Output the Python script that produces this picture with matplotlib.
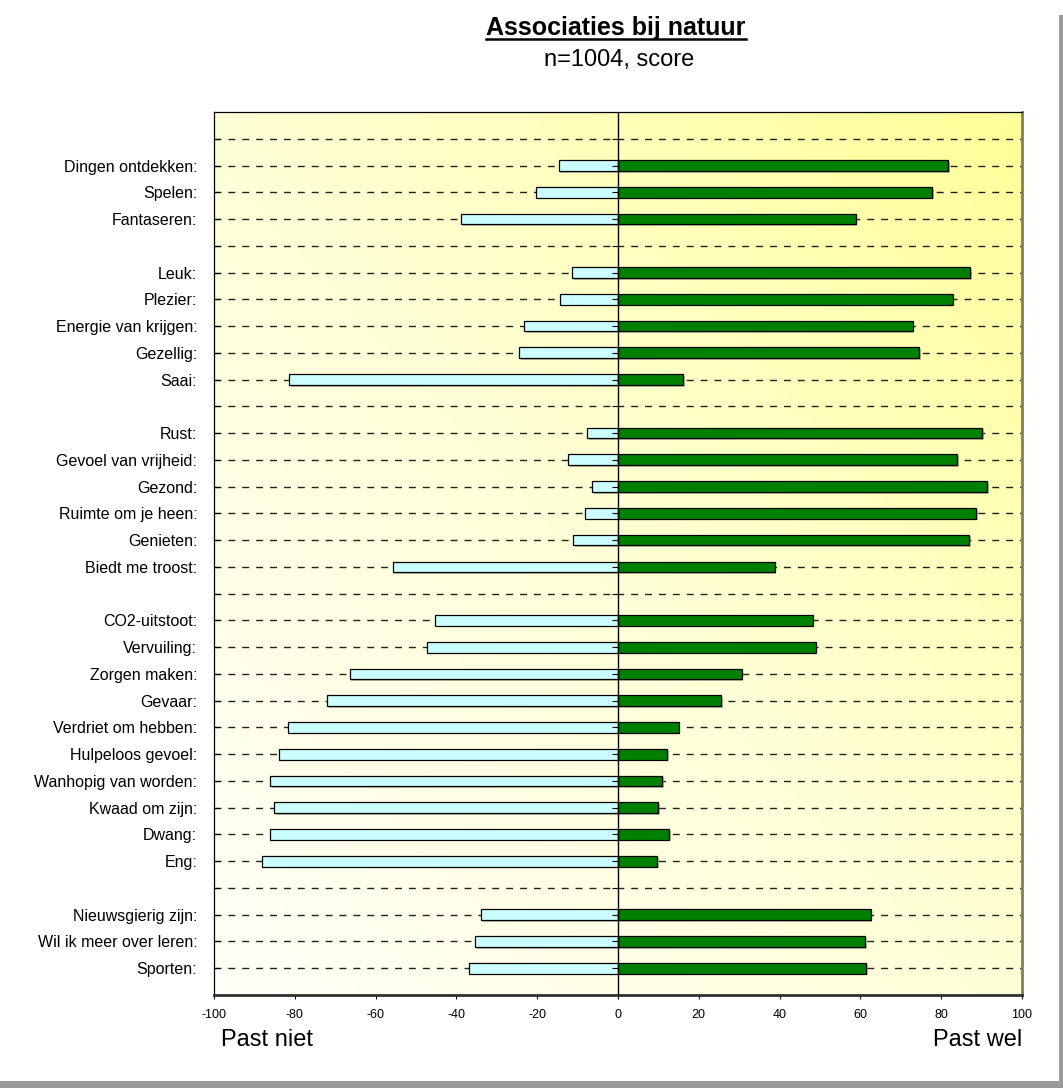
import numpy as np
import matplotlib
matplotlib.use('Agg')
import matplotlib.pyplot as plt
from matplotlib import patheffects as pe
from matplotlib.colors import LinearSegmentedColormap
from matplotlib.lines import Line2D
from matplotlib.patches import Rectangle

plt.rcParams['font.family'] = ['Liberation Sans', 'DejaVu Sans']

# lege regels scheiden de groepen
labels = ['', 'Dingen ontdekken:', 'Spelen:', 'Fantaseren:',
          '', 'Leuk:', 'Plezier:', 'Energie van krijgen:', 'Gezellig:', 'Saai:',
          '', 'Rust:', 'Gevoel van vrijheid:', 'Gezond:', 'Ruimte om je heen:',
          'Genieten:', 'Biedt me troost:',
          '', 'CO2-uitstoot:', 'Vervuiling:', 'Zorgen maken:', 'Gevaar:',
          'Verdriet om hebben:', 'Hulpeloos gevoel:', 'Wanhopig van worden:',
          'Kwaad om zijn:', 'Dwang:', 'Eng:',
          '', 'Nieuwsgierig zijn:', 'Wil ik meer over leren:', 'Sporten:']
past_niet = [None, -14.7, -20.3, -38.8,
             None, -11.4, -14.4, -23.2, -24.5, -81.4,
             None, -7.7, -12.4, -6.4, -8.2, -11.1, -55.8,
             None, -45.2, -47.3, -66.4, -72.0, -81.7, -84.0, -86.1, -85.1, -86.1, -88.1,
             None, -33.8, -35.3, -37.0]
past_wel = [None, 81.7, 77.8, 58.8,
            None, 87.2, 82.8, 72.9, 74.6, 16.2,
            None, 90.2, 84.0, 91.4, 88.7, 86.9, 38.8,
            None, 48.2, 48.9, 30.6, 25.6, 15.0, 12.1, 10.9, 10.0, 12.7, 9.7,
            None, 62.5, 61.1, 61.4]
xticks = [-100, -80, -60, -40, -20, 0, 20, 40, 60, 80, 100]

W, H = 1063, 1088
fig = plt.figure(figsize=(W / 100, H / 100), dpi=100)
fig.patch.set_facecolor('white')
ax = fig.add_axes([214 / W, 1 - 995 / H, 808 / W, 883 / H])

rows = np.arange(1, len(labels) + 1)
n_rows = len(labels)

# achtergrond: verloop van wit (linksonder) naar geel (rechtsboven)
gx, gy = np.meshgrid(np.linspace(0, 1, 200), np.linspace(1, 0, 200))
grad = (gx + gy) / 2
cmap = LinearSegmentedColormap.from_list('bg', ['#FFFFF8', '#FFFFD6', '#FFFF99'])
ax.imshow(grad, extent=(-100, 100, n_rows + 1, 0), cmap=cmap, aspect='auto',
          zorder=0, interpolation='bilinear')

# gestippelde hulplijnen door elke categorie
for r in rows:
    ax.plot([-100, 100], [r, r], color='#222222', lw=1.0, dashes=(5, 5), zorder=1)

shadow = [pe.SimplePatchShadow(offset=(1.2, -1.2), shadow_rgbFace='#777777', alpha=0.5),
          pe.Normal()]
idx = [i for i, l in enumerate(labels) if l]
y = rows[idx]
ax.barh(y, [past_niet[i] for i in idx], height=0.4, color='#CCFFFF',
        edgecolor='black', lw=0.9, zorder=2, path_effects=shadow)
ax.barh(y, [past_wel[i] for i in idx], height=0.4, color='#008000',
        edgecolor='black', lw=0.9, zorder=2, path_effects=shadow)

ax.axvline(0, color='black', lw=1.0, zorder=3)
ax.hlines(rows, -1.5, 0, color='black', lw=0.8, zorder=3)

ax.set_xlim(-100, 100)
ax.set_ylim(n_rows + 1, 0)
ax.set_yticks(rows)
ax.set_yticklabels(labels, fontsize=11.5)
ax.set_xticks(xticks)
ax.set_xticklabels([str(v) for v in xticks], fontsize=9)
ax.tick_params(axis='y', direction='in', length=4, width=0.8, pad=12)
ax.tick_params(axis='x', direction='out', length=3, width=0.8, pad=7)

ax.spines['top'].set_linewidth(0.9)
ax.spines['left'].set_linewidth(0.9)
ax.spines['right'].set_color('#80805A')
ax.spines['right'].set_linewidth(2)
ax.spines['bottom'].set_color('#303030')
ax.spines['bottom'].set_linewidth(2)

title = fig.text(616 / W, 1 - 28 / H, 'Associaties bij natuur', ha='center',
                 va='center', fontsize=18, fontweight='bold')
fig.text(619 / W, 1 - 60 / H, 'n=1004, score', ha='center', va='center', fontsize=17)
fig.text(221 / W, 1 - 1040 / H, 'Past niet', ha='left', va='center', fontsize=17)
fig.text(1022 / W, 1 - 1040 / H, 'Past wel', ha='right', va='center', fontsize=17)

# onderstreping van de titel
fig.canvas.draw()
bb = title.get_window_extent()
fig.add_artist(Line2D([bb.x0 / W, bb.x1 / W], [(bb.y0 + 1) / H, (bb.y0 + 1) / H],
                      color='black', lw=1.8, transform=fig.transFigure))

# grijze schaduwrand rechts en onder
fig.add_artist(Rectangle((1059 / W, 0), 4 / W, 1 - 15 / H, transform=fig.transFigure,
                         color='#999999', lw=0))
fig.add_artist(Rectangle((0, 0), 1, 7 / H, transform=fig.transFigure,
                         color='#999999', lw=0))

fig.savefig('out.png', dpi=100)
